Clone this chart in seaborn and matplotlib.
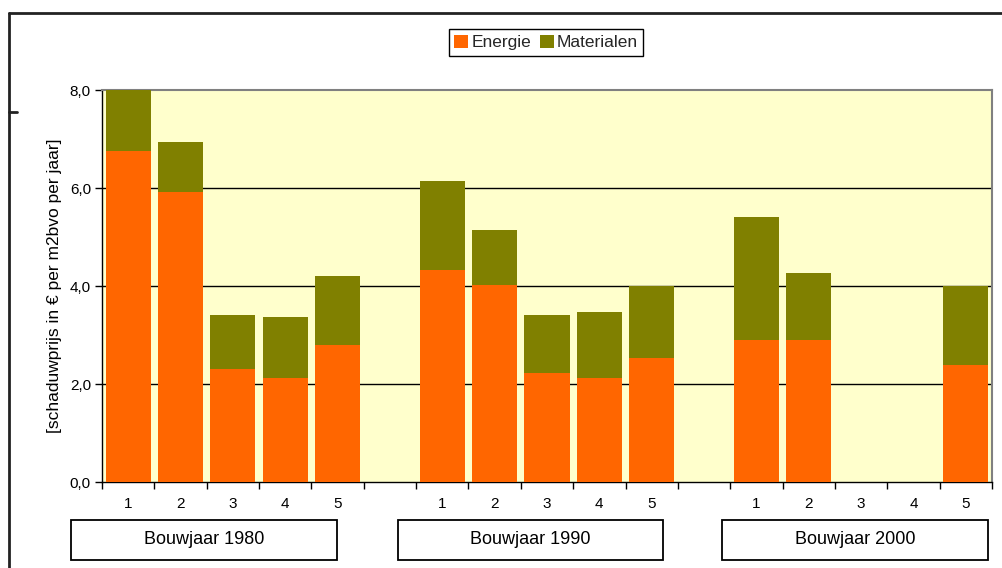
import numpy as np
import pandas as pd
import matplotlib
matplotlib.use("Agg")
import matplotlib.pyplot as plt
from matplotlib.patches import Rectangle
from matplotlib.lines import Line2D
from matplotlib.ticker import FixedLocator, FuncFormatter
import seaborn as sns

# building years and variants per year
years = ["Bouwjaar 1980", "Bouwjaar 1990", "Bouwjaar 2000"]
variants = ["1", "2", "3", "4", "5"]

# shadow price per component (EUR per m2 bvo per year)
energie = [6.76, 5.91, 2.31, 2.13, 2.80,
           4.33, 4.03, 2.22, 2.12, 2.54,
           2.89, 2.89, 0.00, 0.00, 2.39]
materialen = [1.24, 1.02, 1.10, 1.24, 1.41,
              1.81, 1.11, 1.19, 1.35, 1.45,
              2.51, 1.38, 0.00, 0.00, 1.60]
y_ticks = [0, 2, 4, 6, 8]

ORANGE = "#FF6600"
OLIVE = "#808000"
PANEL = "#FFFFCC"

# one slot per variant, with an empty slot between the building years
slots, slot_labels = [], []
for g, year in enumerate(years):
    if g:
        slots.append(f"leeg{g}")
        slot_labels.append("")
    slots += [f"{year}|{v}" for v in variants]
    slot_labels += variants

df = pd.DataFrame({
    "slot": [f"{y}|{v}" for y in years for v in variants],
    "Energie": energie,
    "Materialen": materialen,
})
df["Totaal"] = df["Energie"] + df["Materialen"]

sns.set_theme(style="white")
plt.rcParams["font.family"] = ["Liberation Sans", "DejaVu Sans"]

W, H = 1002, 568
fig = plt.figure(figsize=(W / 100, H / 100), dpi=100)
fig.patch.set_facecolor("white")
ax = fig.add_axes([102 / W, 1 - 482 / H, 890 / W, 392 / H])
ax.set_facecolor(PANEL)

# stacked bars: total (olive) with the energy part (orange) drawn over it
bar_kw = dict(order=slots, saturation=1, width=0.86, errorbar=None,
              linewidth=0, edgecolor="none", ax=ax, zorder=3)
sns.barplot(data=df, x="slot", y="Totaal", color=OLIVE, **bar_kw)
sns.barplot(data=df, x="slot", y="Energie", color=ORANGE, **bar_kw)

for v in y_ticks[1:-1]:
    ax.axhline(v, color="black", lw=1.0, zorder=2)

ax.set_xlim(-0.5, len(slots) - 0.5)
ax.set_ylim(y_ticks[0], y_ticks[-1])

ax.xaxis.set_major_locator(FixedLocator(np.arange(-0.5, len(slots), 1.0)))
ax.xaxis.set_major_formatter(FuncFormatter(lambda v, p: ""))
ax.xaxis.set_minor_locator(FixedLocator(np.arange(len(slots))))
ax.set_xticklabels(slot_labels, minor=True)
ax.set_yticks(y_ticks)
ax.yaxis.set_major_formatter(FuncFormatter(lambda v, p: f"{v:.1f}".replace(".", ",")))

ax.tick_params(axis="x", which="major", bottom=True, direction="out",
               length=5, width=1, color="black")
ax.tick_params(axis="x", which="minor", bottom=True, length=0, pad=11,
               labelsize=11, labelcolor="black")
ax.tick_params(axis="y", left=True, direction="out", length=5, width=1,
               color="black", labelsize=11, pad=3, labelcolor="black")

ax.set_xlabel("")
ax.set_ylabel("[schaduwprijs in € per m2bvo per jaar]", fontsize=12.5, color="black")
ax.yaxis.set_label_coords(-0.045, 0.5)

for side in ["left", "bottom"]:
    ax.spines[side].set_color("black")
    ax.spines[side].set_linewidth(1.0)
for side in ["top", "right"]:
    ax.spines[side].set_color("#808080")
    ax.spines[side].set_linewidth(1.5)

handles = [Rectangle((0, 0), 1, 1, fc=ORANGE, ec="none"),
           Rectangle((0, 0), 1, 1, fc=OLIVE, ec="none")]
leg = fig.legend(handles, ["Energie", "Materialen"], loc="center",
                 bbox_to_anchor=(546 / W, 1 - 42.5 / H), ncol=2,
                 frameon=True, fancybox=False, edgecolor="black",
                 framealpha=1, fontsize=12.5, handlelength=0.8,
                 handleheight=0.8, handletextpad=0.2, columnspacing=0.5,
                 borderpad=0.3, borderaxespad=0)
leg.get_frame().set_linewidth(1.0)

# group label boxes under the variant numbers
box_spans = [(71, 337), (398, 663), (722, 988)]
for (x0, x1), name in zip(box_spans, years):
    fig.add_artist(Rectangle((x0 / W, 1 - 560 / H), (x1 - x0) / W, 40 / H,
                             transform=fig.transFigure, fill=False,
                             ec="black", lw=1.3))
    fig.text((x0 + x1) / 2 / W, 1 - 540 / H, name, ha="center", va="center",
             fontsize=13, color="black")

# outer frame lines
fig.add_artist(Line2D([9 / W, 1], [1 - 13 / H, 1 - 13 / H],
                      transform=fig.transFigure, color="#222222", lw=2))
fig.add_artist(Line2D([9 / W, 9 / W], [0, 1 - 13 / H],
                      transform=fig.transFigure, color="#222222", lw=2))
fig.add_artist(Line2D([9 / W, 17 / W], [1 - 112 / H, 1 - 112 / H],
                      transform=fig.transFigure, color="#222222", lw=2))

fig.savefig("out.png", dpi=100, facecolor="white")
